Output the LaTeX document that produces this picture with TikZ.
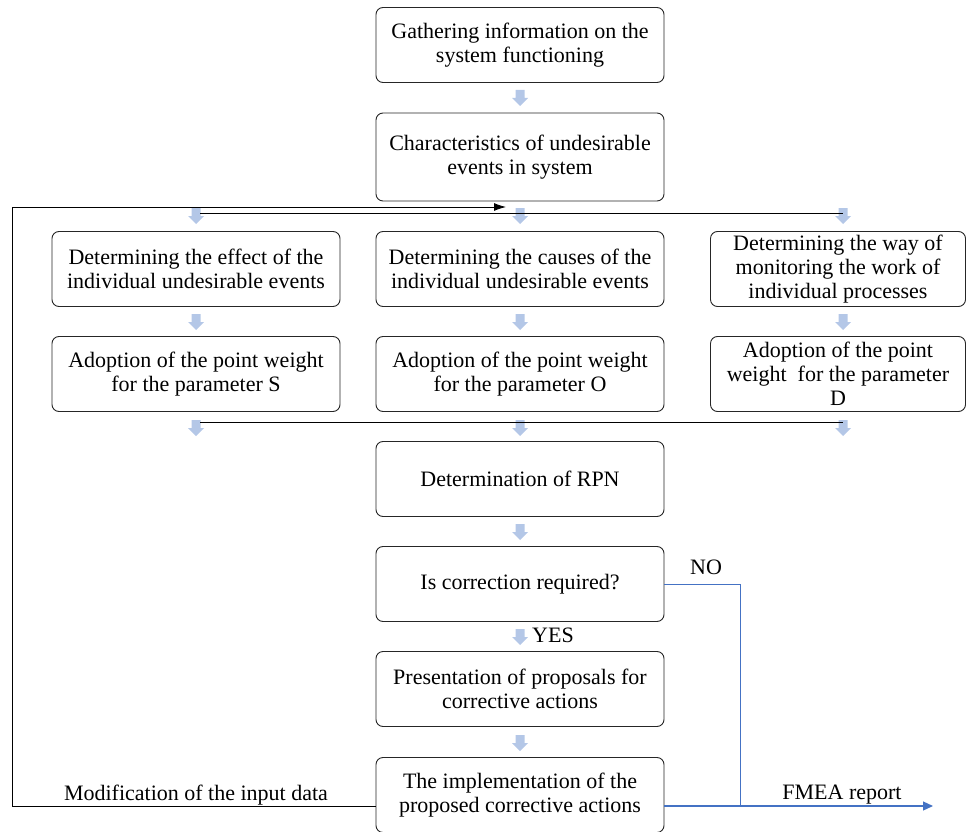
\documentclass[tikz,border=0pt]{standalone}
\usepackage{fontspec}
\setmainfont{Liberation Serif}
\usetikzlibrary{arrows.meta}
\definecolor{arrowblue}{HTML}{B4C7E7}
\definecolor{noblue}{HTML}{4472C4}
\newcommand{\flowarrow}[1]{\fill[arrowblue] (#1) ++(-4.5,0) -- ++(9,0) -- ++(0,8) -- ++(3.5,0) -- ++(-8,8) -- ++(-8,-8) -- ++(3.5,0) -- cycle;}

\begin{document}
\begin{tikzpicture}[x=1pt,y=-1pt]
\useasboundingbox (0,0) rectangle (967,832);
\tikzstyle{every node}=[font=\fontsize{22}{24}\selectfont]
\tikzstyle{stepbox}=[draw=black!85,
                     line width=0.9pt,
                     rounded corners=7pt,
                     align=center,
                     minimum width=288,
                     minimum height=75,
                     inner sep=2pt
                     ]
\tikzstyle{feedline}=[draw=black, line width=0.9pt]
\tikzstyle{noline}=[draw=noblue, line width=0.8pt]

% main column
\node[stepbox] (gather) at (520,45) {Gathering information on the\\system functioning};
\node[stepbox, minimum height=88] (charact) at (520,157) {Characteristics of undesirable\\events in system};
\node[stepbox] (effect) at (196,269) {Determining the effect of the\\individual undesirable events};
\node[stepbox] (causes) at (520,269) {Determining the causes of the\\individual undesirable events};
\node[stepbox, minimum width=255] (monitor) at (838,269) {Determining the way of\\monitoring the work of\\individual processes};
\node[stepbox] (weightS) at (196,374) {Adoption of the point weight\\for the parameter S};
\node[stepbox] (weightO) at (520,374) {Adoption of the point weight\\for the parameter O};
\node[stepbox, minimum width=255] (weightD) at (838,374) {Adoption of the point\\weight\ \ for the parameter\\D};
\node[stepbox] (rpn) at (520,479) {Determination of RPN};
\node[stepbox] (iscorr) at (520,584) {Is correction required?};
\node[stepbox] (propose) at (520,689) {Presentation of proposals for\\corrective actions};
\node[stepbox] (implement) at (520,795) {The implementation of the\\proposed corrective actions};

% block arrows
\flowarrow{520,90}
\flowarrow{196,208} \flowarrow{520,208} \flowarrow{843,208}
\flowarrow{196,314} \flowarrow{520,314} \flowarrow{843,314}
\flowarrow{196,420} \flowarrow{520,420} \flowarrow{843,420}
\flowarrow{520,524}
\flowarrow{520,629}
\flowarrow{520,735}

% distribution lines
\draw[feedline, line width=0.7pt] (200,213) -- (843,213);
\draw[feedline, line width=0.7pt] (200,422) -- (843,422);

% feedback loop
\coordinate (fbleft) at (12,806);
\coordinate (fbin) at (506,207);
\draw[feedline, -{Latex[length=12pt,width=8pt]}] (implement.west |- fbleft) -- (fbleft) |- (fbin);
\node (modify) at (196,795) {Modification of the input data};

% exit to report
\coordinate (junc) at (740,806);
\coordinate (report) at (933,806);
\draw[noline] (iscorr.east) -| (junc);
\draw[noline, line width=1.2pt, -{Triangle[length=10pt,width=9pt]}] (implement.east |- junc) -- (report);
\node (fmea) at (842,795) {FMEA report};
\node (no) at (706,567) {NO};
\node[anchor=west, inner sep=0pt] (yes) at (532,635) {YES};
\end{tikzpicture}
\end{document}
